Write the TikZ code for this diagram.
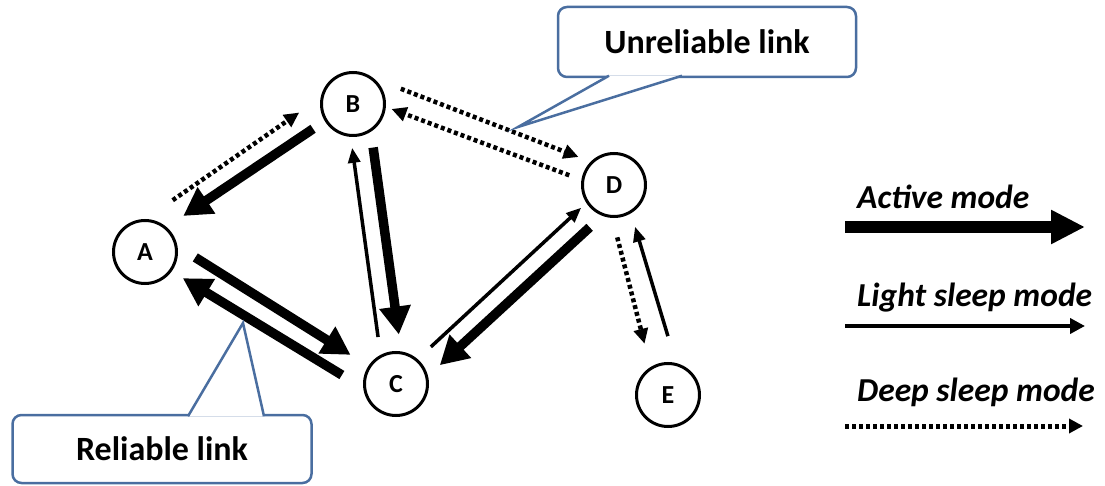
\documentclass[tikz,border=0pt]{standalone}
\usepackage{fontspec}
\setmainfont{Carlito}
\usetikzlibrary{arrows.meta}
\definecolor{calloutBlue}{RGB}{74,110,160}

\begin{document}
\begin{tikzpicture}
[x=1pt,y=-1pt,
  nodeDecorate/.style={shape=circle,draw,line width=3pt,minimum size=63pt,inner sep=0pt,
    font=\fontsize{26}{30}\selectfont\bfseries},
  activeArrow/.style={line width=9.5pt,-{Triangle[length=28pt,width=30pt]}},
  lightArrow/.style={line width=3.5pt,-{Triangle[length=15pt,width=12pt]}},
  deepArrow/.style={line width=4.5pt,dash pattern=on 4pt off 3pt,-{Triangle[length=15pt,width=14pt]}},
  calloutDecorate/.style={draw=calloutBlue,line width=2.5pt,rounded corners=9pt,fill=white,
    inner sep=0pt,font=\fontsize{34}{40}\selectfont\bfseries},
  pointerDecorate/.style={draw=calloutBlue,line width=2.5pt,fill=white},
  legendText/.style={anchor=west,inner sep=0pt,font=\fontsize{33.5}{40}\selectfont\bfseries\itshape}]
\useasboundingbox (0,0) rectangle (1105,486);
%% nodes or vertices
\foreach \nodename/\x/\y in {A/145/252, B/353/104, C/396/384, D/614/185, E/668/395}
{
  \node (\nodename) at (\x,\y) [nodeDecorate] {\nodename};
}
%% links between nodes
\foreach \from/\fa/\to/\ta/\mode/\sa/\sb in {
  B/211/A/49/activeArrow/14/20,
  A/89/B/169/deepArrow/33/26,
  C/118/B/266/lightArrow/18/11,
  B/303/C/81/activeArrow/16/17,
  A/10/C/147/activeArrow/21/21,
  C/187/A/324/activeArrow/25/13,
  C/49/D/213/lightArrow/18/7,
  D/249/C/14/activeArrow/17/16,
  D/267/E/122/deepArrow/20/24,
  E/76/D/301/lightArrow/28/14,
  B/51/D/135/deepArrow/29/13,
  D/171/B/355/deepArrow/13/6}
{
  \draw[\mode,shorten <=\sa pt,shorten >=\sb pt] (\from.\fa) -- (\to.\ta);
}
%% callouts
\node (unrel) at (707,42) [calloutDecorate,minimum width=298pt,minimum height=70pt] {Unreliable link};
\coordinate (unrelTip) at (518,127);
\draw[pointerDecorate] ([xshift=-98pt,yshift=2.5pt]unrel.south) -- (unrelTip)
  -- ([xshift=-25pt,yshift=2.5pt]unrel.south);
\node (rel) at (162,449) [calloutDecorate,minimum width=299pt,minimum height=68pt] {Reliable link};
\coordinate (relTip) at (243,323);
\draw[pointerDecorate] ([xshift=26pt,yshift=-2.5pt]rel.north) -- (relTip)
  -- ([xshift=102pt,yshift=-2.5pt]rel.north);
%% legend
\node (activeLabel) at (857,197) [legendText] {Active mode};
\node (lightLabel) at (857,298) [legendText] {Light sleep mode};
\node (deepLabel) at (857,392) [legendText] {Deep sleep mode};
\coordinate (active0) at (845,227);
\coordinate (active1) at (1085,227);
\coordinate (light0) at (845,326);
\coordinate (light1) at (1085,326);
\coordinate (deep0) at (845,426);
\coordinate (deep1) at (1083,426);
\draw[activeArrow,line width=12pt,-{Triangle[length=34pt,width=32pt]}] (active0) -- (active1);
\draw[lightArrow,line width=4pt,-{Triangle[length=15pt,width=15pt]}] (light0) -- (light1);
\draw[deepArrow,line width=5pt,-{Triangle[length=14pt,width=14pt]}] (deep0) -- (deep1);
\end{tikzpicture}
\end{document}
